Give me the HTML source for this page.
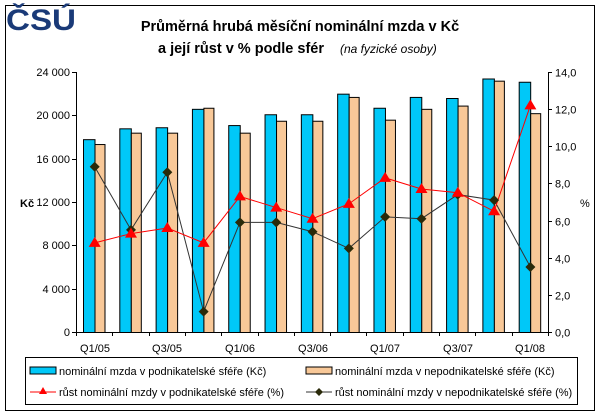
<!DOCTYPE html>
<html><head><meta charset="utf-8"><style>
body{margin:0;background:#fff}
svg{display:block;font-family:"Liberation Sans",Arial,sans-serif}
</style></head><body>
<svg width="600" height="414" viewBox="0 0 600 414" xmlns="http://www.w3.org/2000/svg">
<rect x="5.5" y="5.5" width="589" height="405" fill="#fff" stroke="#000" stroke-width="1"/>
<text x="6" y="30" font-size="30" font-weight="bold" fill="#1a3a78" font-family="Liberation Sans" textLength="70" lengthAdjust="spacingAndGlyphs">ČSÚ</text>
<text x="300" y="31" font-size="14.5" font-weight="bold" text-anchor="middle">Průměrná hrubá měsíční nominální mzda v Kč</text>
<text x="158" y="53" font-size="14.5" font-weight="bold">a její růst v % podle sfér</text>
<text x="340" y="53" font-size="12" font-style="italic">(na fyzické osoby)</text>
<g id="plot"></g>
<g font-size="11">
<text x="70" y="76" text-anchor="end">24 000</text>
<text x="70" y="119" text-anchor="end">20 000</text>
<text x="70" y="163" text-anchor="end">16 000</text>
<text x="70" y="206" text-anchor="end">12 000</text>
<text x="70" y="249" text-anchor="end">8 000</text>
<text x="70" y="293" text-anchor="end">4 000</text>
<text x="70" y="336" text-anchor="end">0</text>
<text x="20" y="207" font-weight="bold">Kč</text>
<text x="580" y="207">%</text>
<text x="95" y="352" text-anchor="middle">Q1/05</text>
<text x="167" y="352" text-anchor="middle">Q3/05</text>
<text x="240" y="352" text-anchor="middle">Q1/06</text>
<text x="313" y="352" text-anchor="middle">Q3/06</text>
<text x="385" y="352" text-anchor="middle">Q1/07</text>
<text x="458" y="352" text-anchor="middle">Q3/07</text>
<text x="530" y="352" text-anchor="middle">Q1/08</text>
</g>
<rect x="25.5" y="357.5" width="552" height="47" fill="none" stroke="#000"/>
<g font-size="11">
<rect x="30" y="367" width="26" height="7" fill="#00c8f8" stroke="#000"/>
<text x="59" y="375">nominální mzda v podnikatelské sféře (Kč)</text>
<rect x="306" y="367" width="26" height="7" fill="#f8c898" stroke="#000"/>
<text x="335" y="375">nominální mzda v nepodnikatelské sféře (Kč)</text>
<line x1="30" y1="392" x2="56" y2="392" stroke="red"/>
<polygon points="43,387 47,394 39,394" fill="red"/>
<text x="59" y="396">růst nominální mzdy v podnikatelské sféře (%)</text>
<line x1="306" y1="392" x2="332" y2="392" stroke="#333"/>
<polygon points="319,388 323,392 319,396 315,392" fill="#2a2a0a"/>
<text x="335" y="396">růst nominální mzdy v nepodnikatelské sféře (%)</text>
</g>
</svg>
<script>
const g=document.getElementById('plot'),NS='http://www.w3.org/2000/svg';
function el(t,a){const e=document.createElementNS(NS,t);for(const k in a)e.setAttribute(k,a[k]);g.appendChild(e);return e;}
const L=76,R=548,T=72,B=332,W=(R-L)/13;
const yk=v=>B-v/24000*(B-T), yp=v=>B-v/14*(B-T);
const blue=[17800,18800,18900,20600,19100,20100,20100,22000,20700,21700,21600,23400,23100];
const org=[17350,18400,18400,20700,18400,19500,19500,21700,19600,20600,20900,23200,20200];
const red=[4.8,5.3,5.6,4.8,7.3,6.7,6.1,6.9,8.3,7.7,7.5,6.5,12.2];
const blk=[8.9,5.5,8.6,1.1,5.9,5.9,5.4,4.5,6.2,6.1,7.4,7.1,3.5];
for(let i=0;i<13;i++){const x=L+W*i+7;
el('rect',{x:x+.5,y:yk(blue[i])+.5,width:11.5,height:B-yk(blue[i]),fill:'#00c8f8',stroke:'#000'});
el('rect',{x:x+12,y:yk(org[i])+.5,width:10,height:B-yk(org[i]),fill:'#f8c898',stroke:'#000'});}
el('line',{x1:L+.5,y1:T,x2:L+.5,y2:B+4,stroke:'#000'});
el('line',{x1:R+.5,y1:T,x2:R+.5,y2:B+4,stroke:'#000'});
el('line',{x1:L-4,y1:B+.5,x2:R+4,y2:B+.5,stroke:'#000'});
for(let k=0;k<=6;k++){const y=Math.round(yk(k*4000))+.5;el('line',{x1:L-4,y1:y,x2:L,y2:y,stroke:'#000'});}
for(let k=0;k<=7;k++){const y=Math.round(yp(k*2))+.5;el('line',{x1:R,y1:y,x2:R+4,y2:y,stroke:'#000'});
const t=el('text',{x:555,y:y+4,'font-size':11});t.textContent=(k*2).toFixed(1).replace('.',',');}
for(let i=0;i<=13;i++){const x=Math.round(L+W*i)+.5;el('line',{x1:x,y1:B,x2:x,y2:B+4,stroke:'#000'});}
const cx=i=>L+W*i+18.7;
el('polyline',{points:blk.map((v,i)=>cx(i)+','+yp(v)).join(' '),fill:'none',stroke:'#333'});
el('polyline',{points:red.map((v,i)=>cx(i)+','+yp(v)).join(' '),fill:'none',stroke:'red'});
blk.forEach((v,i)=>{const x=cx(i),y=yp(v);el('polygon',{points:`${x},${y-5} ${x+5},${y} ${x},${y+5} ${x-5},${y}`,fill:'#2a2a0a'});});
red.forEach((v,i)=>{const x=cx(i),y=yp(v);el('polygon',{points:`${x},${y-6} ${x+6},${y+4} ${x-6},${y+4}`,fill:'red'});});
</script>
</body></html>
